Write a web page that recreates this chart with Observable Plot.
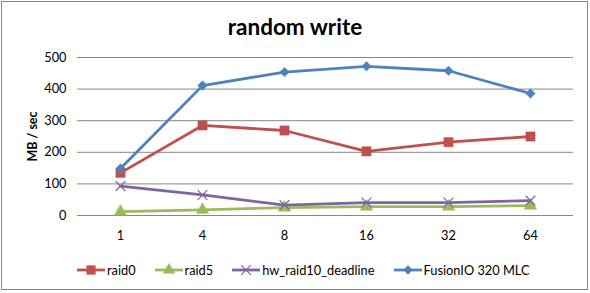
<!DOCTYPE html>
<html>
<head>
<meta charset="utf-8">
<script src="https://cdn.jsdelivr.net/npm/d3@7"></script>
<script src="https://cdn.jsdelivr.net/npm/@observablehq/plot@0.6"></script>
<style>
  html, body { margin: 0; padding: 0; background: #fff; }
  #frame { position: relative; width: 590px; height: 293px; overflow: hidden; font-family: Lato, "Open Sans", sans-serif; }
  #border { position: absolute; left: 1px; top: 1px; width: 587px; height: 289px; box-sizing: border-box; border: 1px solid #878787; pointer-events: none; }
  #title { position: absolute; left: 0; width: 590px; top: 13px; text-align: center; font-size: 22.5px; font-weight: bold; line-height: 28px; color: #000; }
  #plot { position: absolute; left: 0; top: 40px; }
  #legend { position: absolute; left: 77px; top: 261px; display: flex; gap: 19px; font-size: 12.8px; line-height: 18px; color: #000; }
  .item { display: flex; align-items: center; gap: 2px; }
</style>
</head>
<body>
<div id="frame">
  <div id="title">random write</div>
  <div id="plot"></div>
  <div id="legend"></div>
  <div id="border"></div>
</div>
<script>
const threads = ["1", "4", "8", "16", "32", "64"];
const raid0 = [135, 285, 269, 203, 232, 250];
const raid5 = [12, 18, 25, 28, 28, 31];
const hwRaid10 = [93, 65, 33, 41, 41, 47];
const fusionIO = [149, 411, 454, 472, 458, 386];
const yTicks = [0, 100, 200, 300, 400, 500];

const seriesNames = ["raid0", "raid5", "hw_raid10_deadline", "FusionIO 320 MLC"];
const seriesValues = [raid0, raid5, hwRaid10, fusionIO];
const seriesColors = ["#C0504D", "#9BBB59", "#8064A2", "#4F81BD"];
const seriesSymbols = ["square", "triangle", "times", "diamond2"];
const seriesR = [5.2, 4.6, 4.5, 4.3];

const data = [];
seriesNames.forEach((name, i) => {
  seriesValues[i].forEach((v, j) => data.push({series: name, threads: threads[j], value: v, idx: i}));
});

const marks = [
  Plot.gridY(yTicks, {stroke: "#878787", strokeOpacity: 1, strokeWidth: 1})
];
seriesNames.forEach((name, i) => {
  const d = data.filter(e => e.series === name);
  marks.push(Plot.line(d, {x: "threads", y: "value", stroke: seriesColors[i], strokeWidth: 2.8}));
  const sym = seriesSymbols[i];
  if (sym === "times") {
    marks.push(Plot.dot(d, {x: "threads", y: "value", symbol: sym, r: seriesR[i], stroke: seriesColors[i], strokeWidth: 1.2}));
  } else {
    marks.push(Plot.dot(d, {x: "threads", y: "value", symbol: sym, r: seriesR[i], fill: seriesColors[i], stroke: seriesColors[i], strokeWidth: 0.5}));
  }
});

const chart = Plot.plot({
  width: 590,
  height: 210,
  marginLeft: 77,
  marginRight: 17,
  marginTop: 17,
  marginBottom: 35,
  style: {fontFamily: "Lato, 'Open Sans', sans-serif", fontSize: "12.8px", color: "#000", background: "transparent"},
  x: {type: "point", domain: threads, padding: 0.5, tickSize: 0, tickPadding: 15, label: null},
  y: {domain: [0, 500], ticks: yTicks, tickSize: 0, tickPadding: 11, label: "MB / sec", labelAnchor: "center", labelOffset: 49, labelArrow: "none"},
  marks
});
chart.querySelectorAll('[aria-label="y-axis label"] text').forEach(t => {
  t.setAttribute("font-size", "12.5px");
  t.setAttribute("font-weight", "bold");
  t.style.fontSize = "12.5px";
  t.style.fontWeight = "bold";
});
document.getElementById("plot").appendChild(chart);

const legend = document.getElementById("legend");
seriesNames.forEach((name, i) => {
  const item = document.createElement("div");
  item.className = "item";
  const svg = d3.create("svg").attr("width", 28).attr("height", 14);
  svg.append("line").attr("x1", 0).attr("x2", 28).attr("y1", 7).attr("y2", 7)
    .attr("stroke", seriesColors[i]).attr("stroke-width", 2.8);
  const symMap = {square: d3.symbolSquare, triangle: d3.symbolTriangle, times: d3.symbolTimes, diamond2: d3.symbolDiamond2};
  const r = seriesR[i];
  const size = r * r * Math.PI;
  const p = svg.append("path").attr("transform", "translate(14,7)").attr("d", d3.symbol(symMap[seriesSymbols[i]], size)());
  if (seriesSymbols[i] === "times") p.attr("fill", "none").attr("stroke", seriesColors[i]).attr("stroke-width", 1.2);
  else p.attr("fill", seriesColors[i]);
  item.appendChild(svg.node());
  const span = document.createElement("span");
  span.textContent = name;
  item.appendChild(span);
  legend.appendChild(item);
});
</script>
</body>
</html>
